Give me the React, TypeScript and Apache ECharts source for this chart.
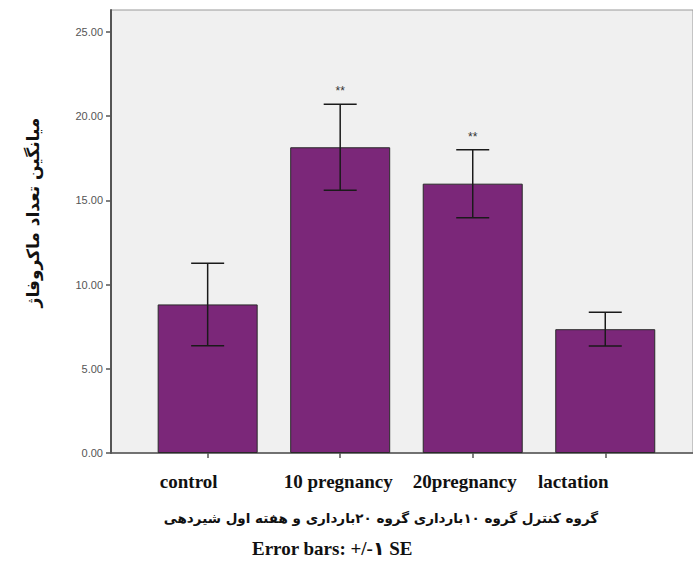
import React, { useEffect, useRef } from "react";
import * as echarts from "echarts";

const categories = ["control", "10 pregnancy", "20pregnancy", "lactation"];
const means = [8.82, 18.15, 15.99, 7.35];
const stdErrors = [2.45, 2.55, 2.02, 1.0];
const significance = ["", "**", "**", ""];
const yTicks = [0, 5, 10, 15, 20, 25];
const xPositions = [1, 2, 3, 4];
const labelShift = [19, 2, 8, 32];
const yTitle = "میانگین تعداد ماکروفاژ";
const xTitle = "گروه کنترل گروه ۱۰بارداری گروه ۲۰بارداری و هفته اول شیردهی";
const footNote = "Error bars: +/-۱ SE";

export default function App() {
  const ref = useRef<HTMLDivElement>(null);
  useEffect(() => {
    if (!ref.current) return;
    const chart = echarts.init(ref.current, null, { renderer: "svg" });
    const rich: any = {};
    categories.forEach((c, i) => {
      rich["c" + i] = {
        fontFamily: "Liberation Serif",
        fontWeight: "bold",
        fontSize: 19,
        color: "#111",
        padding: [0, labelShift[i] * 2, 0, 0],
      };
    });
    const option: any = {
      animation: false,
      backgroundColor: "#ffffff",
      grid: {
        left: 111,
        top: 10,
        right: -2,
        bottom: 110,
        show: true,
        backgroundColor: "#F0F0F0",
        borderColor: "#999",
        borderWidth: 1,
      },
      title: {
        text: footNote,
        left: 252,
        top: 539,
        padding: 0,
        textStyle: {
          fontFamily: "Liberation Serif, DejaVu Sans",
          fontWeight: "bold",
          fontSize: 19,
          color: "#111",
        },
      },
      xAxis: {
        type: "value",
        min: 0.2707,
        max: 4.662,
        splitLine: { show: false },
        axisLine: { show: true, lineStyle: { color: "#555", width: 1.5 } },
        axisTick: {
          show: true,
          customValues: xPositions,
          length: 5,
          lineStyle: { color: "#555", width: 1.5 },
        },
        axisLabel: {
          customValues: xPositions,
          margin: 19,
          formatter: (v: number) => {
            const i = Math.round(v) - 1;
            return "{c" + i + "|" + categories[i] + "}";
          },
          rich,
        },
        name: xTitle,
        nameLocation: "middle",
        nameGap: 58,
        nameTextStyle: {
          fontFamily: "DejaVu Sans",
          fontWeight: "bold",
          fontSize: 13.5,
          color: "#111",
          padding: [0, 42, 0, 0],
        },
      },
      yAxis: {
        type: "value",
        min: 0,
        max: 26.3,
        interval: 5,
        splitLine: { show: false },
        axisLine: { show: true, lineStyle: { color: "#555", width: 2 } },
        axisTick: {
          show: true,
          customValues: yTicks,
          length: 5,
          lineStyle: { color: "#555", width: 1.5 },
        },
        axisLabel: {
          customValues: yTicks,
          formatter: (v: number) => v.toFixed(2),
          fontFamily: "Liberation Sans",
          fontSize: 11,
          color: "#555",
          margin: 8,
        },
        name: yTitle,
        nameLocation: "middle",
        nameGap: 70,
        nameRotate: 90,
        nameTextStyle: {
          fontFamily: "DejaVu Sans",
          fontWeight: "bold",
          fontSize: 17,
          color: "#111",
          padding: [0, 0, 0, 38],
        },
      },
      series: [
        {
          type: "bar",
          barWidth: 100,
          data: xPositions.map((x, i) => [x, means[i]]),
          itemStyle: { color: "#7B2779", borderColor: "#2a2a2a", borderWidth: 1 },
          z: 2,
        },
        {
          type: "custom",
          z: 5,
          data: xPositions.map((x, i) => [x, means[i], stdErrors[i]]),
          renderItem: (params: any, api: any) => {
            const x = api.value(0);
            const m = api.value(1);
            const s = api.value(2);
            const top = api.coord([x, m + s]);
            const bot = api.coord([x, m - s]);
            const hw = 16.5;
            const style = { stroke: "#1a1a1a", lineWidth: 1.5 };
            const children: any[] = [
              { type: "line", shape: { x1: top[0], y1: top[1], x2: bot[0], y2: bot[1] }, style },
              { type: "line", shape: { x1: top[0] - hw, y1: top[1], x2: top[0] + hw, y2: top[1] }, style },
              { type: "line", shape: { x1: bot[0] - hw, y1: bot[1], x2: bot[0] + hw, y2: bot[1] }, style },
            ];
            const sig = significance[params.dataIndex];
            if (sig) {
              children.push({
                type: "text",
                style: {
                  text: sig,
                  x: top[0],
                  y: top[1] - 13,
                  align: "center",
                  verticalAlign: "middle",
                  fontFamily: "Liberation Sans",
                  fontSize: 12,
                  fill: "#333",
                },
              });
            }
            return { type: "group", children };
          },
        },
      ],
    };
    chart.setOption(option);
    return () => chart.dispose();
  }, []);
  return (
    <div
      ref={ref}
      style={{ position: "fixed", left: 0, top: 0, width: 693, height: 563, background: "#fff" }}
    />
  );
}
